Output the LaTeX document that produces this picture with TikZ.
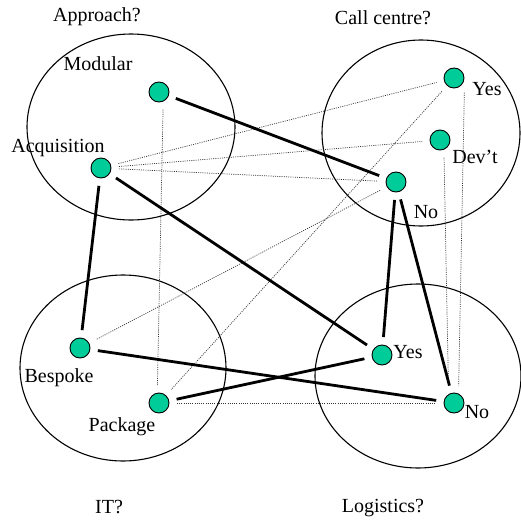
\documentclass[tikz,border=0pt]{standalone}
\usepackage{fontspec}
\setmainfont{Liberation Serif}
\definecolor{dotc}{RGB}{0,204,153}
\begin{document}
\begin{tikzpicture}[x=1pt,y=-1pt,
  dot/.style={circle,draw=black,line width=0.9pt,fill=dotc,minimum size=20pt,inner sep=0pt,outer sep=8pt},
  lbl/.style={inner sep=0pt,font=\fontsize{20}{24}\selectfont},
  strong/.style={line width=2.8pt,black},
  weak/.style={line width=0.7pt,black!80,dash pattern=on 1pt off 1.2pt},
  ring/.style={draw=black,line width=1.1pt}]
\useasboundingbox (0,0) rectangle (521,522);
\fill[white] (0,0) rectangle (521,522);
% groups
\draw[ring] (131,127) ellipse [x radius=104, y radius=93];
\draw[ring] (421,133) ellipse [x radius=99, y radius=93];
\draw[ring] (123,368) ellipse [x radius=103, y radius=93];
\draw[ring] (418,376) ellipse [x radius=103, y radius=92];
% labels
\node[lbl] (tApp) at (97,17) {Approach?};
\node[lbl] (tCall) at (383,18) {Call centre?};
\node[lbl] (tIT) at (109,507) {IT?};
\node[lbl] (tLog) at (383,508) {Logistics?};
\node[lbl] (lMod) at (98,64) {Modular};
\node[lbl] (lAcq) at (58,148) {Acquisition};
\node[lbl] (lCY) at (487,89) {Yes};
\node[lbl] (lDev) at (475,157) {Dev’t};
\node[lbl] (lCN) at (426,212) {No};
\node[lbl] (lBes) at (59,378) {Bespoke};
\node[lbl] (lPkg) at (122,427) {Package};
\node[lbl] (lLY) at (408,352) {Yes};
\node[lbl] (lLN) at (477,412) {No};
% dots
\node[dot] (mod) at (159,92) {};
\node[dot] (acq) at (101,168) {};
\node[dot] (cy) at (454,78) {};
\node[dot] (dev) at (440,140) {};
\node[dot] (cn) at (396,182) {};
\node[dot] (bes) at (80,348) {};
\node[dot] (pkg) at (159,403) {};
\node[dot] (ly) at (382,355) {};
\node[dot] (ln) at (454,403) {};
% weak links
\draw[weak] (acq) -- (cy);
\draw[weak] (acq) -- (dev);
\draw[weak] (acq) -- (cn);
\draw[weak] (mod.-77) -- (pkg.95);
\draw[weak] (cy) -- (pkg);
\draw[weak] (cn) -- (bes);
\draw[weak] (pkg) -- (ln);
\draw[weak] (dev.-77) -- (ln.108);
\draw[weak] (cy.-55) -- (ln.75);
% strong links
\draw[strong] (mod) -- (cn);
\draw[strong] (acq) -- (bes);
\draw[strong] (acq) -- (ly);
\draw[strong] (cn) -- (ly);
\draw[strong] (cn) -- (ln);
\draw[strong] (bes) -- (ln);
\draw[strong] (pkg) -- (ly);
\end{tikzpicture}
\end{document}
